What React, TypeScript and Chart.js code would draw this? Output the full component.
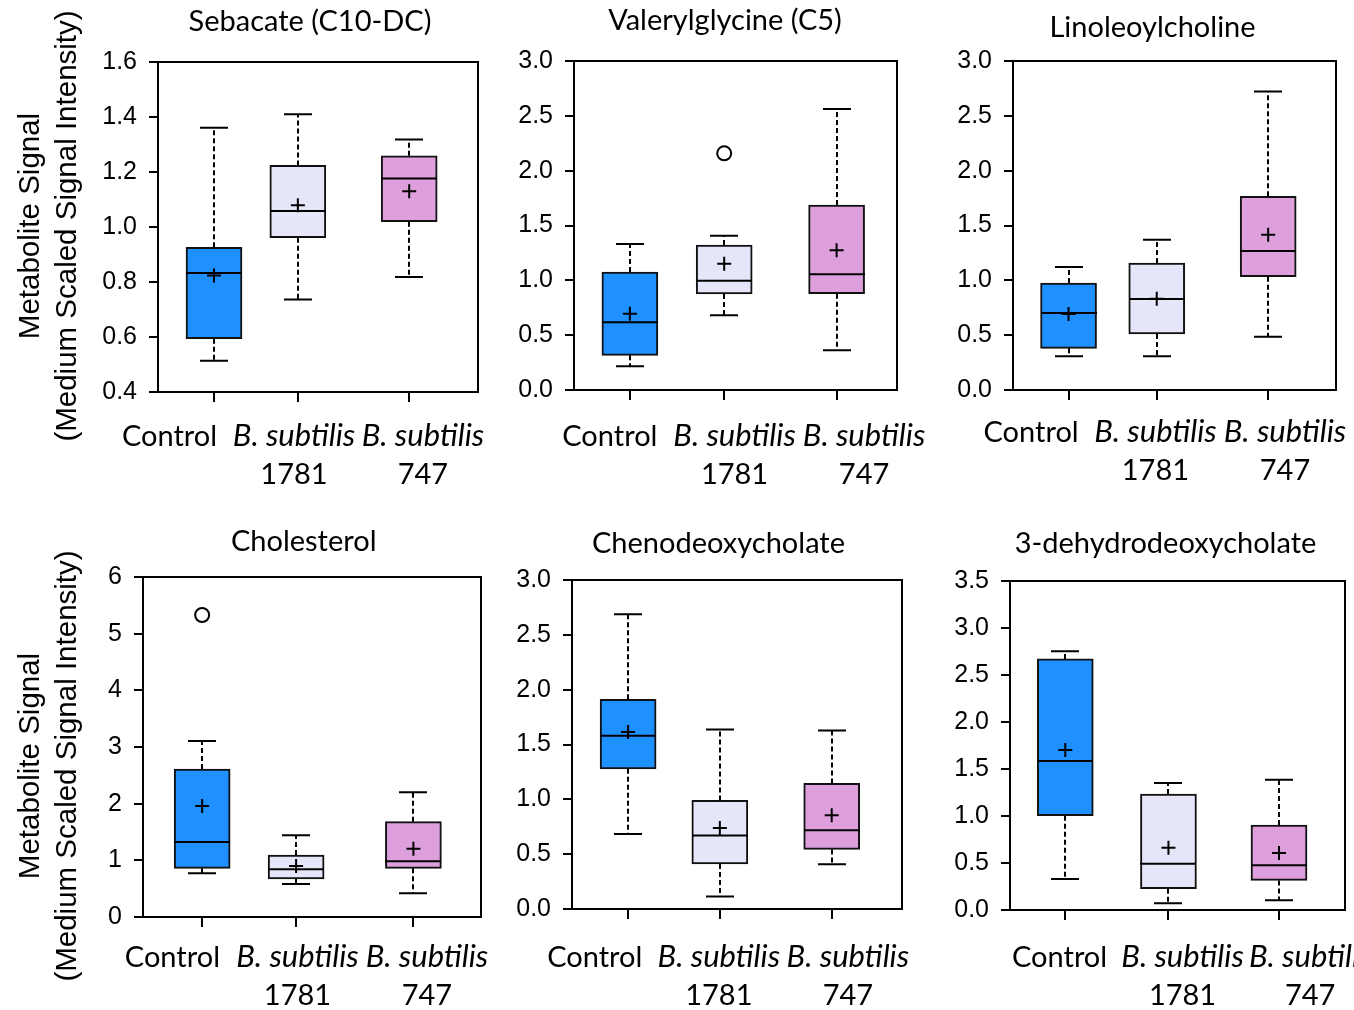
import { useEffect, useRef } from 'react';
import { Chart, registerables } from 'chart.js';

Chart.register(...registerables);

// ---------- data ----------
const GROUP_LINE1 = ['Control', 'B. subtilis', 'B. subtilis'];
const GROUP_LINE2 = ['', '1781', '747'];
const GROUP_ITALIC = [false, true, true];
const GROUP_COLORS = ['#1E90FF', '#E6E6FA', '#DDA0DD'];

const TITLES = [
  'Sebacate (C10-DC)',
  'Valerylglycine (C5)',
  'Linoleoylcholine',
  'Cholesterol',
  'Chenodeoxycholate',
  '3-dehydrodeoxycholate',
];
const Y_TITLE = ['Metabolite Signal', '(Medium Scaled Signal Intensity)'];
const Y_MIN = [0.4, 0, 0, 0, 0, 0];
const Y_MAX = [1.6, 3, 3, 6, 3, 3.5];
const Y_STEP = [0.2, 0.5, 0.5, 1, 0.5, 0.5];
const Y_DECIMALS = [1, 1, 1, 0, 1, 1];

const WHISKER_LOW = [
  [0.514, 0.736, 0.818],
  [0.216, 0.681, 0.362],
  [0.307, 0.307, 0.486],
  [0.771, 0.582, 0.418],
  [0.683, 0.115, 0.407],
  [0.33, 0.071, 0.103],
];
const Q1 = [
  [0.594, 0.961, 1.019],
  [0.316, 0.875, 0.878],
  [0.38, 0.511, 1.033],
  [0.859, 0.671, 0.859],
  [1.278, 0.41, 0.543],
  [1.003, 0.227, 0.315],
];
const MEDIAN = [
  [0.833, 1.058, 1.176],
  [0.617, 0.997, 1.055],
  [0.702, 0.83, 1.267],
  [1.324, 0.841, 0.982],
  [1.579, 0.671, 0.719],
  [1.584, 0.493, 0.475],
];
const Q3 = [
  [0.926, 1.224, 1.259],
  [1.076, 1.322, 1.687],
  [0.976, 1.158, 1.766],
  [2.612, 1.094, 1.682],
  [1.913, 0.99, 1.145],
  [2.671, 1.233, 0.903],
];
const WHISKER_HIGH = [
  [1.361, 1.41, 1.318],
  [1.331, 1.407, 2.562],
  [1.122, 1.371, 2.723],
  [3.106, 1.441, 2.2],
  [2.687, 1.637, 1.627],
  [2.753, 1.35, 1.385],
];
const MEAN = [
  [0.824, 1.079, 1.13],
  [0.696, 1.152, 1.274],
  [0.693, 0.833, 1.416],
  [1.959, 0.9, 1.206],
  [1.615, 0.738, 0.856],
  [1.701, 0.663, 0.606],
];
const OUTLIERS: number[][][] = [
  [[], [], []],
  [[], [2.158], []],
  [[], [], []],
  [[5.329], [], []],
  [[], [], []],
  [[], [], []],
];

// ---------- layout (page pixels / fractions of plot width) ----------
const CANVAS_RECT = [
  [0, 0, 490, 505],
  [490, 0, 440, 505],
  [930, 0, 424, 505],
  [0, 505, 490, 505],
  [490, 505, 440, 505],
  [930, 505, 424, 505],
];
const PLOT_RECT = [
  [158, 62, 478, 392],
  [574, 61, 897, 390],
  [1013, 61, 1336, 390],
  [143, 577, 481, 917],
  [572, 580, 902, 909],
  [1010, 581, 1349, 910],
];
const TICK_FRAC = [
  [0.175, 0.437, 0.785],
  [0.173, 0.465, 0.813],
  [0.172, 0.445, 0.79],
  [0.175, 0.453, 0.8],
  [0.17, 0.448, 0.787],
  [0.165, 0.473, 0.803],
];
const LABEL_FRAC = [
  [0.036, 0.425, 0.828],
  [0.111, 0.497, 0.898],
  [0.056, 0.441, 0.842],
  [0.087, 0.457, 0.84],
  [0.069, 0.445, 0.836],
  [0.148, 0.515, 0.896],
];
const LABEL_DROP = [54, 56, 52, 50, 58, 57];
const LABEL_GAP = 38;
const TITLE_POS = [
  [310, 31],
  [725, 30],
  [1152.5, 37],
  [303.7, 551],
  [718.5, 553],
  [1165.5, 553],
];
const Y_TITLE_CENTER = [226, null, null, 766, null, null];
const Y_TITLE_BASELINES = [39, 76];

const SANS = '"Liberation Sans", Arial, sans-serif';
const CAL = 'Lato, "Open Sans", sans-serif';
const LABEL_SIZE = 29;
const LABEL_ITALIC_SIZE = 31;
const TITLE_SIZE = 29;

function makeConfig(p: number): any {
  const [cx, cy, cw, ch] = CANVAS_RECT[p];
  const [L, T, R, B] = PLOT_RECT[p];

  const boxData = TICK_FRAC[p].map((x, i) => ({ x, y: [Q1[p][i], Q3[p][i]] }));
  const meanData = TICK_FRAC[p].map((x, i) => ({ x, y: MEAN[p][i] }));
  const outData: { x: number; y: number }[] = [];
  OUTLIERS[p].forEach((arr, i) => arr.forEach((v) => outData.push({ x: TICK_FRAC[p][i], y: v })));

  const boxPlugin = {
    id: 'boxExtras' + p,
    afterDatasetDraw(chart: any, args: any) {
      if (args.index !== 0) return;
      const ctx = chart.ctx;
      const xs = chart.scales.x;
      const ys = chart.scales.y;
      const meta = chart.getDatasetMeta(0);
      ctx.save();
      for (let i = 0; i < 3; i++) {
        const x = Math.round(xs.getPixelForValue(TICK_FRAC[p][i]));
        const bw = meta.data[i].width;
        const yLo = ys.getPixelForValue(WHISKER_LOW[p][i]);
        const yHi = ys.getPixelForValue(WHISKER_HIGH[p][i]);
        const yQ1 = ys.getPixelForValue(Q1[p][i]);
        const yQ3 = ys.getPixelForValue(Q3[p][i]);
        const yMed = ys.getPixelForValue(MEDIAN[p][i]);
        ctx.strokeStyle = '#000';
        // dashed whiskers
        ctx.lineWidth = 2;
        ctx.setLineDash([5, 3]);
        ctx.beginPath();
        ctx.moveTo(x, yQ3);
        ctx.lineTo(x, yHi);
        ctx.moveTo(x, yQ1);
        ctx.lineTo(x, yLo);
        ctx.stroke();
        ctx.setLineDash([]);
        // caps
        ctx.lineWidth = 2;
        const cap = bw / 4;
        ctx.beginPath();
        ctx.moveTo(x - cap, yHi);
        ctx.lineTo(x + cap, yHi);
        ctx.moveTo(x - cap, yLo);
        ctx.lineTo(x + cap, yLo);
        ctx.stroke();
        // median
        ctx.beginPath();
        ctx.moveTo(x - bw / 2, yMed);
        ctx.lineTo(x + bw / 2, yMed);
        ctx.stroke();
      }
      ctx.restore();
    },
    afterDraw(chart: any) {
      const ctx = chart.ctx;
      const a = chart.chartArea;
      const xs = chart.scales.x;
      ctx.save();
      // frame
      ctx.strokeStyle = '#000';
      ctx.lineWidth = 2;
      ctx.strokeRect(a.left, a.top, a.right - a.left, a.bottom - a.top);
      // category labels
      ctx.fillStyle = '#000';
      ctx.textAlign = 'center';
      ctx.textBaseline = 'alphabetic';
      for (let i = 0; i < 3; i++) {
        const x = xs.getPixelForValue(LABEL_FRAC[p][i]);
        const y1 = a.bottom + LABEL_DROP[p];
        ctx.font = GROUP_ITALIC[i]
          ? 'italic ' + LABEL_ITALIC_SIZE + 'px ' + CAL
          : LABEL_SIZE + 'px ' + CAL;
        ctx.fillText(GROUP_LINE1[i], x, y1);
        if (GROUP_LINE2[i]) {
          ctx.font = LABEL_SIZE + 'px ' + CAL;
          ctx.fillText(GROUP_LINE2[i], x, y1 + LABEL_GAP);
        }
      }
      // title
      ctx.font = TITLE_SIZE + 'px ' + CAL;
      ctx.fillText(TITLES[p], TITLE_POS[p][0] - cx, TITLE_POS[p][1] - cy);
      // y title
      const yc = Y_TITLE_CENTER[p];
      if (yc !== null) {
        ctx.font = '29.5px ' + SANS;
        for (let k = 0; k < 2; k++) {
          ctx.save();
          ctx.translate(Y_TITLE_BASELINES[k] - cx, yc - cy);
          ctx.rotate(-Math.PI / 2);
          ctx.fillText(Y_TITLE[k], 0, 0);
          ctx.restore();
        }
      }
      ctx.restore();
    },
  };

  return {
    type: 'bar',
    data: {
      datasets: [
        {
          type: 'bar',
          data: boxData,
          backgroundColor: GROUP_COLORS,
          borderColor: '#111',
          borderWidth: 2,
          borderSkipped: false,
          barThickness: 56,
          order: 3,
        },
        {
          type: 'scatter',
          data: outData,
          pointStyle: 'circle',
          pointRadius: 7,
          pointBackgroundColor: '#fff',
          pointBorderColor: '#000',
          pointBorderWidth: 2,
          order: 2,
        },
        {
          type: 'scatter',
          data: meanData,
          pointStyle: 'cross',
          pointRadius: 7,
          pointBorderColor: '#000',
          pointBorderWidth: 2,
          order: 1,
        },
      ],
    },
    options: {
      responsive: false,
      animation: false,
      events: [],
      layout: { padding: { left: 0, top: T - cy, right: cx + cw - R, bottom: 0 } },
      plugins: { legend: { display: false }, tooltip: { enabled: false }, title: { display: false } },
      scales: {
        x: {
          type: 'linear',
          min: 0,
          max: 1,
          offset: false,
          afterBuildTicks: (axis: any) => {
            axis.ticks = TICK_FRAC[p].map((v) => ({ value: v }));
          },
          afterFit: (axis: any) => {
            axis.height = cy + ch - B;
          },
          ticks: { display: false },
          grid: {
            offset: false,
            drawOnChartArea: false,
            drawTicks: true,
            tickLength: 10,
            color: '#000',
            lineWidth: 2,
          },
          border: { display: false },
        },
        y: {
          type: 'linear',
          min: Y_MIN[p],
          max: Y_MAX[p],
          afterFit: (axis: any) => {
            axis.width = L - cx;
          },
          ticks: {
            stepSize: Y_STEP[p],
            padding: 12,
            color: '#000',
            font: { family: SANS, size: 25 },
            callback: (v: any) => Number(v).toFixed(Y_DECIMALS[p]),
          },
          grid: {
            drawOnChartArea: false,
            drawTicks: true,
            tickLength: 9,
            color: '#000',
            lineWidth: 2,
          },
          border: { display: false },
        },
      },
    },
    plugins: [boxPlugin],
  };
}

function Panel({ p }: { p: number }) {
  const ref = useRef<HTMLCanvasElement>(null);
  useEffect(() => {
    const chart = new Chart(ref.current as HTMLCanvasElement, makeConfig(p));
    let alive = true;
    const fonts: any = (document as any).fonts;
    if (fonts && fonts.ready) {
      fonts.ready.then(() => {
        if (alive) chart.update();
      });
    }
    return () => {
      alive = false;
      chart.destroy();
    };
  }, [p]);
  const [x, y, w, h] = CANVAS_RECT[p];
  return (
    <canvas
      ref={ref}
      width={w}
      height={h}
      style={{ position: 'absolute', left: x, top: y, width: w, height: h }}
    />
  );
}

export default function App() {
  return (
    <div
      style={{
        position: 'absolute',
        left: 0,
        top: 0,
        width: 1354,
        height: 1010,
        background: '#fff',
        overflow: 'hidden',
      }}
    >
      {TITLES.map((_, p) => (
        <Panel key={p} p={p} />
      ))}
    </div>
  );
}
